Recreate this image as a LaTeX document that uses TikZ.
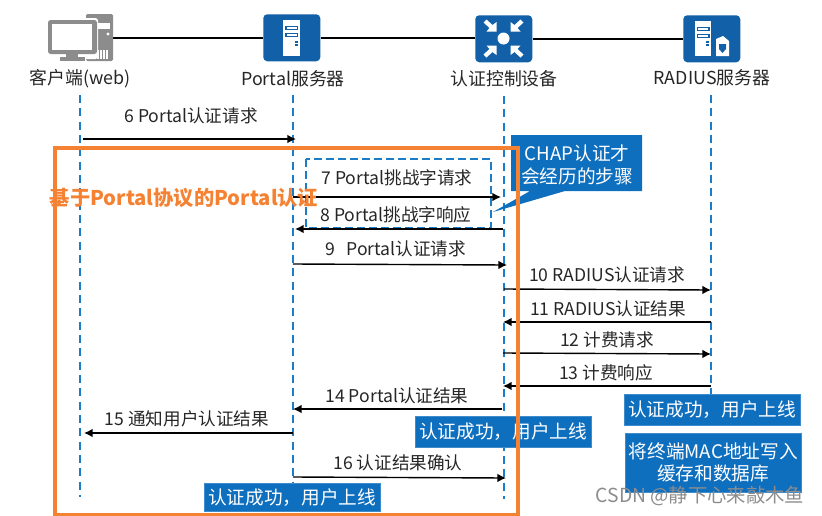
\documentclass[tikz,border=0pt]{standalone}
\usepackage{fontspec}
\setmainfont{Noto Sans CJK SC}
\usetikzlibrary{arrows.meta}
\definecolor{iconblue}{HTML}{1160A8}
\definecolor{boxblue}{HTML}{0F6FBF}
\definecolor{lifeblue}{HTML}{1B7CC8}
\definecolor{frameorange}{HTML}{F58232}
\definecolor{pcgray}{HTML}{8C8C8C}
\tikzset{
  iconbox/.style={fill=iconblue,rounded corners=3pt,minimum width=42.75pt,minimum height=35.25pt,inner sep=0pt,anchor=north west},
  link/.style={draw=black,line width=1.1pt},
  lifeline/.style={draw=lifeblue,line width=1.3pt,dash pattern=on 6pt off 4pt},
  msg/.style={draw=black,line width=1.05pt,-{Latex[length=6.5pt,width=6.5pt]}},
  msgtext/.style={font=\fontsize{13.2}{15}\selectfont,text=black!85,inner sep=0pt},
  devname/.style={font=\fontsize{13.4}{15}\selectfont,text=black!85,inner sep=0pt},
  bluebox/.style={fill=boxblue,draw=boxblue!80!white,line width=.4pt,text=white,font=\fontsize{14}{16.5}\selectfont,align=center,inner sep=0pt,anchor=north west},
}
\begin{document}
\begin{tikzpicture}[x=0.75pt,y=-0.75pt]
\useasboundingbox (0,0) rectangle (822,515);
% device icons
\node[iconbox] (portal) at (263,14) {};
\node[iconbox] (ctrl) at (475,15) {};
\node[iconbox] (radius) at (683,15) {};
\node[inner sep=0pt,minimum width=48pt,minimum height=35.25pt,anchor=north west] (pc) at (48,14) {};
\draw[link] (pc.east |- 0,38) -- (portal.west |- 0,38);
\draw[link] (portal.east |- 0,38) -- (ctrl.west |- 0,38);
\draw[link] (ctrl.east |- 0,39) -- (radius.west |- 0,39);
% PC glyph
\fill[pcgray,rounded corners=1pt] (86,14) rectangle (113,61);
\fill[white] (96,23) rectangle (110,29);
\fill[white] (108,34) circle (1.6);
\foreach \x in {94,97,...,106}{\fill[white] (\x,50) rectangle ++(1.5,9);}
\fill[white,rounded corners=2pt] (46,18) rectangle (98,59);
\fill[pcgray,rounded corners=2pt] (48,20) rectangle (97,54);
\fill[white] (52,24) rectangle (92,50);
\fill[pcgray] (66,54) rectangle (78,57);
\fill[pcgray] (60,57) rectangle (85,61);
% portal server glyph
\fill[white] (283,20) rectangle (300,56);
\fill[iconblue] (285,26) rectangle (298,30);
\fill[white] (286.5,27.3) rectangle (296.5,28.8);
\fill[iconblue] (285,33) rectangle (298,37);
\fill[white] (286.5,34.3) rectangle (296.5,35.8);
\fill[iconblue] (295,41) rectangle (297.5,42.5);
\fill[iconblue] (295,44) rectangle (297.5,45.5);
% controller glyph
\fill[white] (503.5,38.5) circle (6);
\foreach \sx/\sy in {1/1,-1/1,1/-1,-1/-1}{
  \begin{scope}[shift={(503.5,38.5)},xscale=\sx,yscale=\sy]
    \fill[white] (7,7) -- (7,16.5) -- (11,13.5) -- (17,19) -- (20,16) -- (14,10.5) -- (17,7) -- cycle;
  \end{scope}}
% radius glyph
\fill[white] (695,21) rectangle (711,56);
\fill[iconblue] (696.5,27) rectangle (709.5,31);
\fill[white] (698,28.3) rectangle (708,29.8);
\fill[iconblue] (696.5,34) rectangle (709.5,38);
\fill[white] (698,35.3) rectangle (708,36.8);
\fill[iconblue] (706,41) rectangle (708.5,42.5);
\fill[iconblue] (706,44) rectangle (708.5,45.5);
\fill[white] (716,39) -- (723,36) -- (729,41) -- (729,56) -- (716,56) -- cycle;
\fill[iconblue] (719,44) -- (726,44) -- (726,49) -- (722.5,53) -- (719,49) -- cycle;
% device names
\node[devname] (n1) at (80,79) {客户端(web)};
\node[devname] (n2) at (293,79) {Portal服务器};
\node[devname] (n3) at (504,79) {认证控制设备};
\node[devname] (n4) at (712,78) {RADIUS服务器};
% lifelines
\coordinate (l1t) at (80,95); \coordinate (l1b) at (80,497);
\coordinate (l2t) at (293,95); \coordinate (l2b) at (293,484);
\coordinate (l3t) at (504,96); \coordinate (l3b) at (504,499);
\coordinate (l4t) at (711,95); \coordinate (l4b) at (711,427);
\draw[lifeline] (l1t) -- (l1b);
\draw[lifeline] (l2t) -- (l2b);
\draw[lifeline] (l3t) -- (l3b);
\draw[lifeline] (l4t) -- (l4b);
% dashed box
\draw[lifeblue,line width=1.4pt,dash pattern=on 6pt off 3pt] (306,159) rectangle (491,228);
\node[minimum width=138.75pt,minimum height=51.75pt,inner sep=0pt,anchor=north west] (chapbox) at (306,159) {};
% messages
\foreach \n/\xa/\ya/\xb/\yb in {
  6/83/139/296/139, 7/293/197/501/197, 8/503/229/295/229, 9/293/264/507/265,
  10/504/289/711/290, 11/711/322/503/322, 12/503/353/711/354, 13/711/386/503/386,
  14/502/409/293/409, 15/293/433/84/433, 16/293/477/506/478}{
  \coordinate (m\n a) at (\xa,\ya);
  \coordinate (m\n b) at (\xb,\yb);
  \draw[msg] (m\n a) -- (m\n b);
}
\node[msgtext] (t6) at (191,116) {6 Portal认证请求};
\node[msgtext] (t7) at (397,178) {7 Portal挑战字请求};
\node[msgtext] (t8) at (396,215) {8 Portal挑战字响应};
\node[msgtext] (t9) at (396,249) {9\hspace{0.6em}Portal认证请求};
\node[msgtext] (t10) at (607,275) {10 RADIUS认证请求};
\node[msgtext] (t11) at (608,309) {11 RADIUS认证结果};
\node[msgtext] (t12) at (607,340) {12 计费请求};
\node[msgtext] (t13) at (606,373) {13 计费响应};
\node[msgtext] (t14) at (397,396) {14 Portal认证结果};
\node[msgtext] (t15) at (187,419) {15 通知用户认证结果};
\node[msgtext] (t16) at (398,463) {16 认证结果确认};
% callout
\fill[boxblue] (511,135) -- (642,135) -- (642,191) -- (565,191) -- (493,212) -- (530,191) -- (511,191) -- cycle;
\node[text=white,font=\fontsize{14}{17.5}\selectfont,align=center,inner sep=0pt] (chapt) at (577,165) {CHAP认证才\\会经历的步骤};
% blue status boxes
\node[bluebox,minimum width=132pt,minimum height=23.25pt] (s1) at (624,394) {认证成功，用户上线};
\node[bluebox,minimum width=132pt,minimum height=44.25pt] (s2) at (625,433) {将终端MAC地址写入\\缓存和数据库};
\node[bluebox,minimum width=132pt,minimum height=23.25pt] (s3) at (415,416) {认证成功，用户上线};
% orange frame
\node[draw=frameorange,line width=3pt,minimum width=347.25pt,minimum height=275.25pt,inner sep=0pt,anchor=north west] (frame) at (53,146) {};
\node[bluebox,minimum width=132pt,minimum height=21pt] (s4) at (204,483) {认证成功，用户上线};
\node[text=frameorange,font=\bfseries\fontsize{15.2}{17}\selectfont,inner sep=0pt] (ftitle) at (184,198) {基于Portal协议的Portal认证};
% watermark
\node[text=black!45,font=\fontsize{14.5}{16}\selectfont,inner sep=0pt] (wm) at (700,496) {CSDN @静下心来敲木鱼};
\end{tikzpicture}
\end{document}
